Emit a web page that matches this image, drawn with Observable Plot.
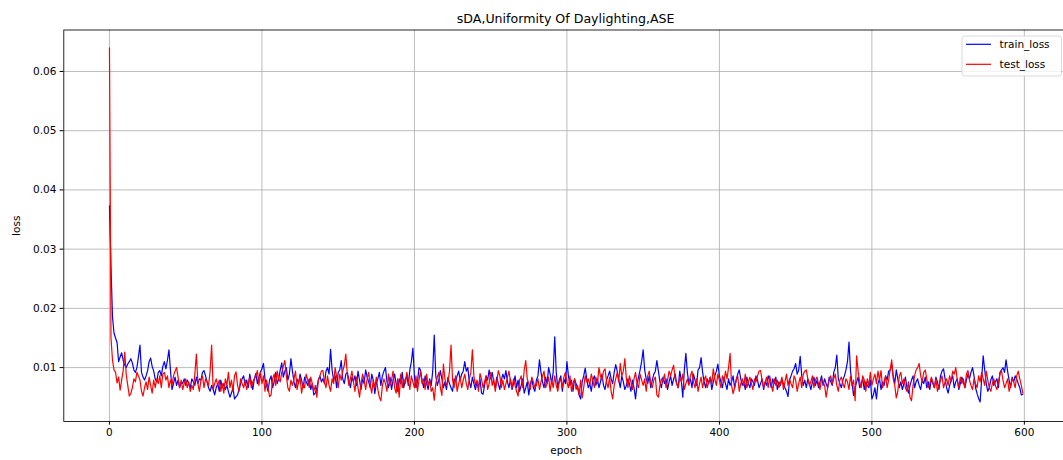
<!DOCTYPE html>
<html>
<head>
<meta charset="utf-8">
<script src="https://cdn.jsdelivr.net/npm/d3@7"></script>
<script src="https://cdn.jsdelivr.net/npm/@observablehq/plot@0.6"></script>
<style>
  html, body { margin: 0; padding: 0; background: #fff; }
  #chart { position: relative; width: 1063px; height: 460px; overflow: hidden; background: #fff; }
  #chart svg { font-family: "DejaVu Sans", sans-serif; color: #000; max-width: none !important; }
</style>
</head>
<body>
<div id="chart"></div>
<script>
const title = "sDA,Uniformity Of Daylighting,ASE";
const xLabel = "epoch";
const yLabel = "loss";
const seriesNames = ["train_loss", "test_loss"];
const seriesColors = ["#0000ff", "#ff0000"];
const xTicks = [0, 100, 200, 300, 400, 500, 600];
const yTicks = [0.01, 0.02, 0.03, 0.04, 0.05, 0.06];

// loss per epoch (epochs 0..599), stored in units of 1e-4
const trainLoss = [
  373,270,185,158,150,142,110,118,125,112, 104,100,106,110,115,108,96,92,100,118,
  138,92,84,79,86,95,110,116,102,94, 81,76,92,95,86,102,110,98,112,130,
  96,63,73,84,70,79,66,76,73,81, 70,79,73,66,81,76,70,84,73,81,
  79,92,95,86,76,66,60,70,63,54, 66,73,60,79,66,73,63,70,60,50,
  57,66,47,51,54,63,73,81,86,70, 79,66,89,76,63,81,90,73,84,92,
  98,107,81,70,60,79,86,66,76,92, 73,81,96,108,84,94,100,79,89,115,
  94,76,66,81,73,89,79,66,84,76, 70,81,63,73,54,57,66,79,86,76,
  81,73,94,100,89,131,96,79,86,66, 92,96,112,81,73,89,92,79,66,84,
  76,86,70,94,79,63,81,73,96,84, 76,66,89,79,56,73,81,92,70,86,
  94,100,76,66,84,63,79,89,73,60, 81,73,92,66,79,86,70,96,110,133,
  84,66,76,100,96,79,66,86,73,63, 81,70,94,155,86,70,79,95,81,66,
  76,63,84,73,66,60,81,76,86,94, 79,89,94,110,94,100,76,66,84,73,
  63,76,66,81,57,55,70,86,79,96, 81,92,76,66,84,73,63,79,89,81,
  95,76,66,81,63,73,86,66,79,60, 70,81,57,66,76,54,73,81,66,60,
  79,86,113,92,76,66,84,73,100,89, 73,92,152,92,66,79,86,60,81,73,
  110,86,70,79,60,81,73,66,54,47, 76,86,99,81,66,73,60,79,86,70,
  81,66,76,89,70,63,79,86,94,81, 73,92,105,94,79,66,86,76,63,70,
  81,73,60,79,66,47,73,84,96,110, 130,96,81,73,86,66,79,89,94,112,
  94,76,66,84,73,81,63,76,86,70, 81,89,73,66,94,79,50,96,124,92,
  73,81,66,89,79,70,96,100,117,92, 76,66,81,73,84,63,76,86,94,106,
  86,76,66,84,73,63,81,70,76,86, 66,79,89,96,81,70,76,63,84,73,
  66,81,76,70,86,79,66,73,81,63, 76,70,86,79,66,81,73,84,63,76,
  70,81,73,66,60,51,79,86,94,98, 107,89,96,119,86,70,79,66,81,73,
  63,76,84,70,79,66,76,86,70,81, 73,66,84,76,70,92,100,121,81,73,
  66,79,86,96,110,143,94,73,53,66, 76,84,66,73,81,63,76,70,66,79,
  47,54,66,47,73,81,63,76,70,86, 79,94,96,106,86,73,96,81,66,76,
  63,73,84,66,57,70,79,86,66,76, 81,70,63,79,73,84,66,76,63,81,
  73,66,84,76,63,86,94,98,81,66, 57,70,79,86,66,76,81,63,73,84,
  76,66,79,89,81,92,100,86,66,56, 48,42,81,120,96,73,60,66,79,86,
  70,76,81,66,92,96,100,92,113,94, 79,66,84,76,86,81,73,66,54,55
];
const testLoss = [
  640,150,112,96,92,74,84,62,79,95, 126,88,70,52,56,66,81,76,92,86,
  79,60,52,66,76,63,84,70,57,79, 66,81,73,86,66,89,92,79,86,66,
  79,70,86,94,100,84,66,79,63,73, 81,66,76,60,70,63,89,123,73,60,
  79,86,66,81,76,70,94,138,63,73, 81,70,79,60,73,57,81,70,92,66,
  79,60,86,93,70,60,81,73,66,79, 63,73,84,66,76,81,86,95,70,92,
  73,86,60,79,66,51,54,81,89,70, 94,81,76,92,102,112,86,66,60,79,
  70,81,94,63,76,84,57,73,66,89, 79,66,84,73,60,70,50,79,86,94,
  95,76,66,86,70,60,81,73,100,84, 66,89,79,94,104,123,89,70,81,94,
  76,60,84,66,50,73,89,79,63,81, 92,70,57,79,66,84,63,50,44,70,
  81,73,60,89,70,79,94,66,57,81, 50,89,66,81,73,92,79,63,86,76,
  66,86,60,79,94,73,81,63,89,70, 79,60,66,45,73,84,92,66,53,106,
  81,70,76,94,138,79,66,86,60,73, 84,66,79,89,73,63,81,92,130,86,
  70,79,60,90,81,66,76,86,63,73, 92,70,81,60,76,95,86,66,79,63,
  73,84,94,76,66,81,70,60,52,79, 86,66,96,112,81,73,63,84,76,66,
  70,81,63,76,86,94,66,73,84,60, 79,66,86,70,60,76,81,66,84,92,
  76,66,86,60,73,81,63,70,54,79, 49,66,86,76,81,70,89,79,66,84,
  73,100,86,79,94,98,76,66,84,60, 47,70,81,92,76,107,86,94,115,81,
  66,86,76,63,81,92,73,66,89,79, 70,81,60,86,94,73,66,79,84,54,
  50,70,81,76,89,66,79,94,86,96, 104,81,73,66,84,76,89,63,73,81,
  70,86,94,76,66,81,60,73,84,66, 79,86,66,76,84,73,98,81,70,89,
  79,66,86,76,94,81,100,124,70,56, 66,79,86,60,73,81,70,89,66,76,
  84,73,63,81,76,86,94,95,79,66, 76,84,66,86,73,60,81,70,79,66,
  73,84,63,76,89,70,81,73,66,86, 79,60,73,84,66,89,94,96,81,70,
  76,86,66,79,84,73,63,81,76,70, 50,66,79,86,73,81,89,70,60,79,
  84,73,66,81,76,63,86,70,79,44, 120,94,76,66,86,79,60,81,70,92,
  70,81,89,73,94,79,95,66,76,86, 66,79,96,113,81,70,49,60,86,92,
  73,81,66,60,76,50,44,70,86,96, 100,107,86,76,92,96,81,66,73,84,
  76,66,81,60,70,79,86,66,76,81, 70,86,76,94,89,100,79,66,84,73,
  81,66,89,95,79,70,63,81,73,66, 86,76,92,81,70,94,79,66,60,73,
  81,70,63,76,89,95,79,66,73,81, 60,70,81,76,66,86,94,81,70,57
];

const UNIT = 1e-4;
const toRows = (values) => values.map((v, i) => ({epoch: i, loss: v * UNIT}));
const series = [toRows(trainLoss), toRows(testLoss)];

// layout of the figure (the axes run a little past the right edge of the view)
const W = 1080, H = 460;
const margin = {top: 29.5, right: 12, bottom: 39, left: 63.3};
const nEpochs = trainLoss.length;
const pad = (nEpochs - 1) * 0.05;
const fontSize = 10.5;

const plot = Plot.plot({
  width: W,
  height: H,
  marginTop: margin.top,
  marginRight: margin.right,
  marginBottom: margin.bottom,
  marginLeft: margin.left,
  style: {fontFamily: "DejaVu Sans, sans-serif", fontSize: fontSize + "px", color: "#000", background: "#fff", maxWidth: "none"},
  x: {domain: [-pad, nEpochs - 1 + pad]},
  y: {domain: [0.0009, 0.067]},
  marks: [
    Plot.gridX(xTicks, {stroke: "#b0b0b0", strokeOpacity: 1, strokeWidth: 0.85}),
    Plot.gridY(yTicks, {stroke: "#b0b0b0", strokeOpacity: 1, strokeWidth: 0.85}),
    ...series.map((rows, k) => Plot.line(rows, {x: "epoch", y: "loss", stroke: seriesColors[k], strokeWidth: 1.2})),
    Plot.frame({stroke: "#000", strokeWidth: 0.85}),
    Plot.axisX(xTicks, {
      tickSize: 3.7, tickPadding: 3.7, fontSize: fontSize, tickFormat: d3.format("d"),
      label: xLabel, labelAnchor: "center", labelArrow: "none", labelOffset: 32
    }),
    Plot.axisY(yTicks, {
      tickSize: 3.7, tickPadding: 3.7, fontSize: fontSize, tickFormat: d3.format(".2f"),
      label: yLabel, labelAnchor: "center", labelArrow: "none", labelOffset: 51
    })
  ]
});

const svg = d3.select(plot);
const axesLeft = margin.left, axesRight = W - margin.right;

// title
svg.append("text")
  .attr("x", (axesLeft + axesRight) / 2)
  .attr("y", 23)
  .attr("text-anchor", "middle")
  .attr("font-size", 12.6)
  .attr("fill", "#000")
  .text(title);

// legend, upper right corner of the axes
const lg = svg.append("g").attr("font-size", fontSize).attr("text-anchor", "start");
const boxW = 99.5, boxH = 40, boxX = axesRight - 5 - boxW - 1.5, boxY = margin.top + 6.5;
lg.append("rect")
  .attr("x", boxX).attr("y", boxY).attr("width", boxW).attr("height", boxH)
  .attr("rx", 2.5).attr("fill", "#fff").attr("fill-opacity", 0.8)
  .attr("stroke", "#d6d6d6").attr("stroke-width", 0.9);
seriesNames.forEach((name, k) => {
  const yy = boxY + 8.3 + k * 20;
  lg.append("line")
    .attr("x1", boxX + 4).attr("x2", boxX + 29)
    .attr("y1", yy).attr("y2", yy)
    .attr("stroke", seriesColors[k]).attr("stroke-width", 1.2);
  lg.append("text")
    .attr("x", boxX + 37.6).attr("y", yy)
    .attr("dy", "0.35em")
    .attr("text-anchor", "start")
    .attr("fill", "#000")
    .text(name);
});

document.getElementById("chart").appendChild(plot);
</script>
</body>
</html>
